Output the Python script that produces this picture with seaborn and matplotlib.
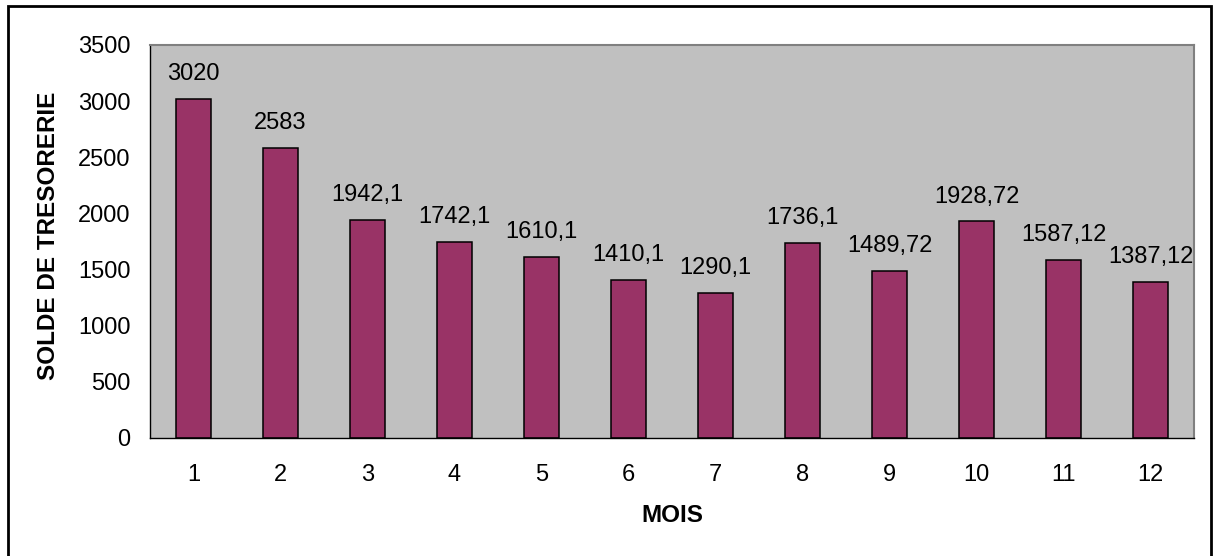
import matplotlib
matplotlib.use("Agg")
import matplotlib.pyplot as plt
import seaborn as sns
import pandas as pd
from matplotlib.patches import Rectangle

mois = [1, 2, 3, 4, 5, 6, 7, 8, 9, 10, 11, 12]
solde = [3020, 2583, 1942.1, 1742.1, 1610.1, 1410.1, 1290.1, 1736.1, 1489.72, 1928.72, 1587.12, 1387.12]
y_ticks = [0, 500, 1000, 1500, 2000, 2500, 3000, 3500]

sns.set_theme(style="white")
plt.rcParams['font.family'] = ['Liberation Sans', 'DejaVu Sans']

W, H = 1214, 556
fig = plt.figure(figsize=(W / 100, H / 100), dpi=100)
ax = fig.add_axes([150 / W, (H - 438) / H, 1044 / W, 393 / H])

df = pd.DataFrame({"MOIS": [str(m) for m in mois], "SOLDE": solde})
sns.barplot(data=df, x="MOIS", y="SOLDE", color="#993366", saturation=1,
            width=0.4, edgecolor="black", linewidth=1.1, ax=ax)

ax.set_facecolor("#C0C0C0")
ax.set_xlim(-0.5, len(mois) - 0.5)
ax.set_ylim(0, 3500)
ax.set_yticks(y_ticks)
ax.set_yticklabels([str(t) for t in y_ticks])

# bar value labels with comma decimal separator
labels = [f"{v:g}".replace(".", ",") for v in solde]
ax.bar_label(ax.containers[0], labels=labels, padding=10, fontsize=17, color="black")

# spines
for side in ["top", "right"]:
    ax.spines[side].set_color("#808080")
    ax.spines[side].set_linewidth(1.5)
for side in ["left", "bottom"]:
    ax.spines[side].set_color("black")
    ax.spines[side].set_linewidth(1.0)

# ticks: labels at category centres, tick marks at category boundaries
ax.tick_params(axis="x", which="major", length=0, pad=19, labelsize=17, colors="black")
ax.set_xticks([i - 0.5 for i in range(len(mois) + 1)], minor=True)
ax.tick_params(axis="x", which="minor", direction="inout", length=10, width=1, color="black")
ax.tick_params(axis="y", which="major", direction="inout", length=10, width=1,
               pad=9, labelsize=17, color="black", labelcolor="black")

ax.set_xlabel("MOIS", fontsize=17.5, fontweight="bold", color="black")
ax.set_ylabel("SOLDE DE TRESORERIE", fontsize=17.5, fontweight="bold", color="black")
ax.xaxis.set_label_coords(0.5, (438 - 515) / 393)
ax.xaxis.label.set_va("center")
ax.yaxis.set_label_coords((48.5 - 150) / 1044, 0.514)
ax.yaxis.label.set_va("center")

# outer chart frame
fig.patches.append(Rectangle((8 / W, -0.01), (1210.5 - 8) / W, (H - 6) / H + 0.01,
                             transform=fig.transFigure, fill=False,
                             edgecolor="black", linewidth=2, figure=fig))

fig.savefig("out.png", dpi=100, facecolor="white")
